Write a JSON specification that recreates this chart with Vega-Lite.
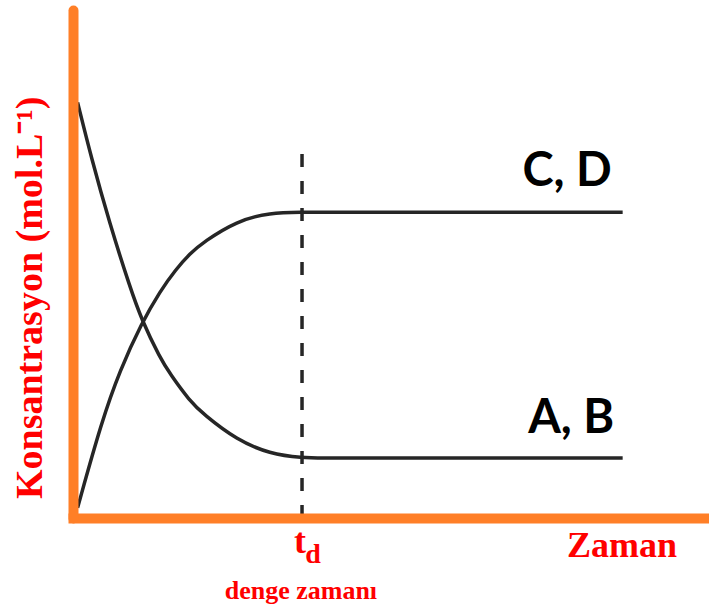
{
  "$schema": "https://vega.github.io/schema/vega-lite/v6.json",
  "width": 636,
  "height": 508,
  "autosize": {"type": "none"},
  "padding": {"left": 73, "top": 10, "right": 0, "bottom": 92},
  "background": "white",
  "config": {"view": {"stroke": null}},
  "datasets": {
    "curves": [
      {"t": 0.2, "c": 8.1, "s": "A, B"},
      {"t": 0.8, "c": 7.02, "s": "A, B"},
      {"t": 1.6, "c": 5.74, "s": "A, B"},
      {"t": 2.5, "c": 4.48, "s": "A, B"},
      {"t": 3.0, "c": 3.86, "s": "A, B"},
      {"t": 3.8, "c": 3.12, "s": "A, B"},
      {"t": 4.25, "c": 2.8, "s": "A, B"},
      {"t": 5.1, "c": 2.28, "s": "A, B"},
      {"t": 5.7, "c": 2.02, "s": "A, B"},
      {"t": 7.15, "c": 1.52, "s": "A, B"},
      {"t": 8.6, "c": 1.25, "s": "A, B"},
      {"t": 10, "c": 1.17, "s": "A, B"},
      {"t": 11, "c": 1.17, "s": "A, B"},
      {"t": 12, "c": 1.17, "s": "A, B"},
      {"t": 24, "c": 1.17, "s": "A, B"},
      {"t": 0.2, "c": 0.2, "s": "C, D"},
      {"t": 1.25, "c": 1.88, "s": "C, D"},
      {"t": 2.05, "c": 2.88, "s": "C, D"},
      {"t": 3.0, "c": 3.8, "s": "C, D"},
      {"t": 3.8, "c": 4.42, "s": "C, D"},
      {"t": 4.5, "c": 4.85, "s": "C, D"},
      {"t": 5.1, "c": 5.15, "s": "C, D"},
      {"t": 5.7, "c": 5.38, "s": "C, D"},
      {"t": 7.15, "c": 5.79, "s": "C, D"},
      {"t": 8.6, "c": 5.95, "s": "C, D"},
      {"t": 10, "c": 5.96, "s": "C, D"},
      {"t": 11, "c": 5.96, "s": "C, D"},
      {"t": 12, "c": 5.96, "s": "C, D"},
      {"t": 24, "c": 5.96, "s": "C, D"}
    ],
    "vline": [{"t": 10, "c0": 0, "c1": 7.27}],
    "labels": [
      {"txt": "C, D", "t": 21.57, "c": 6.47, "g": "series"},
      {"txt": "A, B", "t": 21.75, "c": 1.66, "g": "series"},
      {"txt": "Zaman", "t": 23.97, "c": -0.76, "g": "axis"},
      {"txt": "t", "t": 9.91, "c": -0.68, "g": "axis"},
      {"txt": "d", "t": 10.48, "c": -0.88, "g": "sub"},
      {"txt": "denge zamanı", "t": 9.95, "c": -1.58, "g": "note"},
      {"txt": "Konsantrasyon (mol.L⁻¹)", "t": -1.35, "c": 4.29, "g": "ytitle"}
    ]
  },
  "encoding": {
    "x": {
      "field": "t",
      "type": "quantitative",
      "scale": {"domain": [0, 27.77], "nice": false, "zero": false},
      "axis": {"domain": true, "domainColor": "#FF7F27", "domainWidth": 10, "domainCap": "square", "labels": false, "ticks": false, "grid": false, "title": null, "zindex": 1}
    },
    "y": {
      "field": "c",
      "type": "quantitative",
      "scale": {"domain": [0, 9.9], "nice": false, "zero": false},
      "axis": {"domain": true, "domainColor": "#FF7F27", "domainWidth": 10, "domainCap": "round", "labels": false, "ticks": false, "grid": false, "title": null, "zindex": 1}
    }
  },
  "layer": [
    {
      "data": {"name": "curves"},
      "mark": {"type": "line", "interpolate": "basis", "color": "#262626", "strokeWidth": 3.5},
      "encoding": {"detail": {"field": "s"}}
    },
    {
      "data": {"name": "vline"},
      "mark": {"type": "rule", "strokeDash": [13, 14], "strokeWidth": 3.5, "color": "#262626"},
      "encoding": {
        "y": {"field": "c0", "type": "quantitative"},
        "y2": {"field": "c1"}
      }
    },
    {
      "data": {"name": "labels"},
      "transform": [{"filter": "datum.g === 'series'"}],
      "mark": {"type": "text", "font": "Lato", "fontWeight": "bold", "fontSize": 47, "color": "#000000", "align": "center", "baseline": "alphabetic"},
      "encoding": {"text": {"field": "txt"}}
    },
    {
      "data": {"name": "labels"},
      "transform": [{"filter": "datum.g === 'axis'"}],
      "mark": {"type": "text", "font": "Liberation Serif", "fontWeight": "bold", "fontSize": 36, "color": "#FF0000", "align": "center", "baseline": "alphabetic"},
      "encoding": {"text": {"field": "txt"}}
    },
    {
      "data": {"name": "labels"},
      "transform": [{"filter": "datum.g === 'sub'"}],
      "mark": {"type": "text", "font": "Liberation Serif", "fontWeight": "bold", "fontSize": 28, "color": "#FF0000", "align": "center", "baseline": "alphabetic"},
      "encoding": {"text": {"field": "txt"}}
    },
    {
      "data": {"name": "labels"},
      "transform": [{"filter": "datum.g === 'note'"}],
      "mark": {"type": "text", "font": "Liberation Serif", "fontWeight": "bold", "fontSize": 26, "color": "#FF0000", "align": "center", "baseline": "alphabetic"},
      "encoding": {"text": {"field": "txt"}}
    },
    {
      "data": {"name": "labels"},
      "transform": [{"filter": "datum.g === 'ytitle'"}],
      "mark": {"type": "text", "font": "Liberation Serif", "fontWeight": "bold", "fontSize": 38, "color": "#FF0000", "align": "center", "baseline": "alphabetic", "angle": 270},
      "encoding": {"text": {"field": "txt"}}
    }
  ]
}
